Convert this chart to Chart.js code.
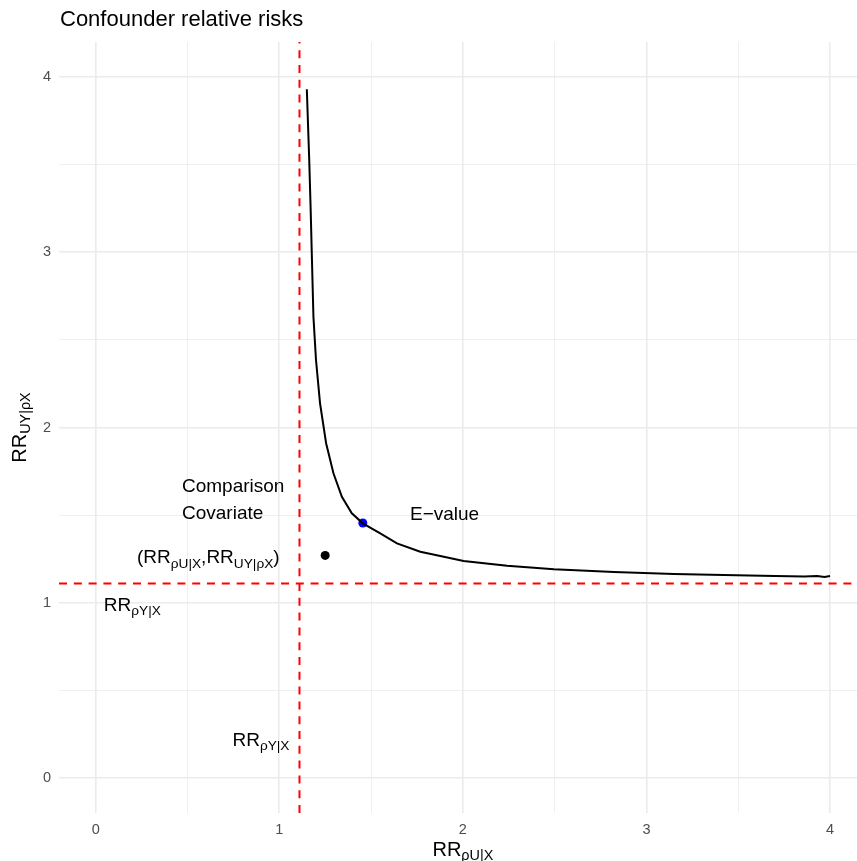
<!DOCTYPE html>
<html>
<head>
<meta charset="utf-8">
<script src="https://cdn.jsdelivr.net/npm/chart.js@4.4.1/dist/chart.umd.min.js"></script>
<style>
  body { margin: 0; background: #fff; }
  canvas { display: block; }
</style>
</head>
<body>
<canvas id="rrChart" width="857" height="861"></canvas>
<script>
// curve of confounder relative risks that explain away the observed RR
const curveX = [1.15, 1.163, 1.171, 1.177, 1.186, 1.200, 1.222, 1.255, 1.295, 1.341, 1.395, 1.455,
                1.55, 1.641, 1.768, 1.877, 2.004, 2.241, 2.496, 2.823, 3.15, 3.42, 3.70, 3.86, 3.93, 3.97, 4.0];
const curveY = [3.93, 3.53, 3.24, 2.994, 2.632, 2.385, 2.138, 1.910, 1.739, 1.605, 1.510, 1.453,
                1.396, 1.339, 1.291, 1.267, 1.238, 1.211, 1.191, 1.175, 1.164, 1.158, 1.153, 1.149, 1.153, 1.147, 1.153];
const observedRR = 1.11;
const comparisonPoint = { x: 1.25, y: 1.27 };
const eValuePoint = { x: 1.455, y: 1.455 };
const gridTicks = [0, 0.5, 1, 1.5, 2, 2.5, 3, 3.5, 4];

// text labels: [x, y, pieces] where pieces are [text, isSubscript]
const labelTexts = [
  [0.47, 1.662, [['Comparison', false]]],
  [0.47, 1.505, [['Covariate', false]]],
  [0.225, 1.255, [['(RR', false], ['ρU|X', true], [',RR', false], ['UY|ρX', true], [')', false]]],
  [0.044, 0.984, [['RR', false], ['ρY|X', true]]],
  [0.745, 0.212, [['RR', false], ['ρY|X', true]]],
  [1.712, 1.50, [['E\u2212value', false]]]
];

const FONT = '"Liberation Sans", Arial, Helvetica, sans-serif';

function drawRich(ctx, x, y, pieces, size, align) {
  const subSize = size * 0.72;
  let total = 0;
  const widths = pieces.map(p => {
    ctx.font = (p[1] ? subSize : size) + 'px ' + FONT;
    const w = ctx.measureText(p[0]).width;
    total += w;
    return w;
  });
  let cx = align === 'center' ? x - total / 2 : x;
  ctx.textAlign = 'left';
  ctx.textBaseline = 'middle';
  pieces.forEach((p, i) => {
    ctx.font = (p[1] ? subSize : size) + 'px ' + FONT;
    ctx.fillText(p[0], cx, p[1] ? y + size * 0.3 : y);
    cx += widths[i];
  });
}

const textPlugin = {
  id: 'textPlugin',
  afterDatasetsDraw(chart) {
    const ctx = chart.ctx;
    const xs = chart.scales.x, ys = chart.scales.y;
    const area = chart.chartArea;
    ctx.save();
    ctx.fillStyle = '#000';
    labelTexts.forEach(l => {
      drawRich(ctx, xs.getPixelForValue(l[0]), ys.getPixelForValue(l[1]), l[2], 19, 'left');
    });
    // title
    ctx.font = '22px ' + FONT;
    ctx.textAlign = 'left';
    ctx.textBaseline = 'middle';
    ctx.fillText('Confounder relative risks', area.left + 1, 20);
    // axis titles, centred on the panel
    drawRich(ctx, xs.getPixelForValue(2), 850, [['RR', false], ['ρU|X', true]], 20, 'center');
    ctx.translate(20, ys.getPixelForValue(2));
    ctx.rotate(-Math.PI / 2);
    drawRich(ctx, 0, 0, [['RR', false], ['UY|ρX', true]], 20, 'center');
    ctx.restore();
  }
};

const gridOpts = {
  color: '#EBEBEB',
  lineWidth: c => (c.tick && Number.isInteger(c.tick.value) ? 1.6 : 0.8),
  drawTicks: false
};
const tickOpts = {
  color: '#4D4D4D',
  font: { family: FONT, size: 14.5 },
  autoSkip: false,
  maxRotation: 0,
  padding: 8,
  callback: v => (Number.isInteger(v) ? v : '')
};

const ctx = document.getElementById('rrChart').getContext('2d');
const rrChart = new Chart(ctx, {
  type: 'scatter',
  data: {
    datasets: [
      {
        data: curveX.map((x, i) => ({ x: x, y: curveY[i] })),
        showLine: true,
        borderColor: '#000',
        borderWidth: 2,
        pointRadius: 0,
        tension: 0
      },
      {
        data: [{ x: observedRR, y: -0.2 }, { x: observedRR, y: 4.2 }],
        showLine: true,
        borderColor: '#FF0000',
        borderWidth: 2,
        borderDash: [8, 6.8],
        pointRadius: 0
      },
      {
        data: [{ x: -0.2, y: observedRR }, { x: 4.2, y: observedRR }],
        showLine: true,
        borderColor: '#FF0000',
        borderWidth: 2,
        borderDash: [8, 6.8],
        pointRadius: 0
      },
      {
        data: [comparisonPoint],
        backgroundColor: '#000',
        borderWidth: 0,
        pointRadius: 4.5
      },
      {
        data: [eValuePoint],
        backgroundColor: '#0000FF',
        borderWidth: 0,
        pointRadius: 4.5
      }
    ]
  },
  options: {
    responsive: false,
    animation: false,
    layout: { autoPadding: false, padding: { top: 42, left: 0, right: 0, bottom: 0 } },
    plugins: {
      legend: { display: false },
      tooltip: { enabled: false }
    },
    scales: {
      x: {
        type: 'linear',
        min: -0.2,
        max: 4.147,
        grid: gridOpts,
        border: { display: false },
        ticks: tickOpts,
        afterBuildTicks: s => { s.ticks = gridTicks.map(v => ({ value: v })); },
        afterFit: s => { s.height = 48; s.paddingLeft = 0; s.paddingRight = 0; }
      },
      y: {
        type: 'linear',
        min: -0.2,
        max: 4.2,
        grid: gridOpts,
        border: { display: false },
        ticks: tickOpts,
        afterBuildTicks: s => { s.ticks = gridTicks.map(v => ({ value: v })); },
        afterFit: s => { s.width = 59; s.paddingTop = 0; s.paddingBottom = 0; }
      }
    }
  },
  plugins: [textPlugin]
});
</script>
</body>
</html>
